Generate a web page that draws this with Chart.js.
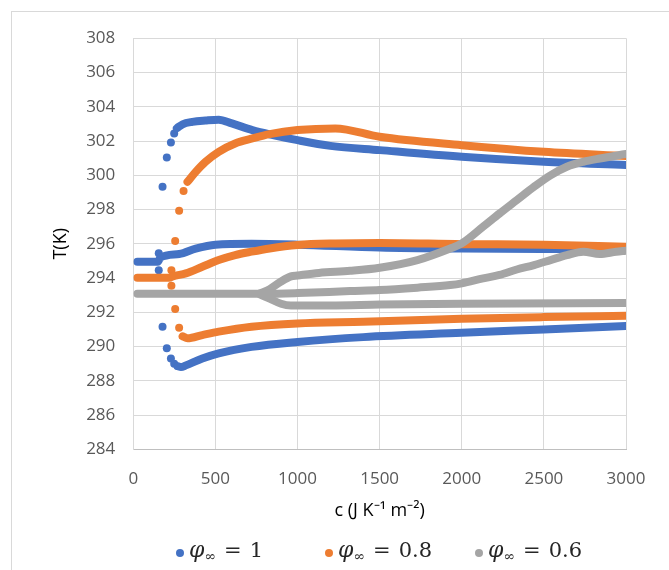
<!DOCTYPE html>
<html>
<head>
<meta charset="utf-8">
<script src="https://cdn.jsdelivr.net/npm/chart.js@4.4.1/dist/chart.umd.min.js"></script>
<style>
  html, body { margin: 0; padding: 0; background: #fff; overflow: hidden; }
  #wrap { position: relative; width: 669px; height: 570px; }
  #frame { position: absolute; left: 11px; top: 11px; width: 700px; height: 600px;
           border-top: 1px solid #d9d9d9; border-left: 1px solid #d9d9d9; }
  #legend { position: absolute; left: 0; top: 536px; width: 669px; height: 30px;
            font-family: "DejaVu Serif", "Liberation Serif", serif; font-size: 21px; color: #262626; }
  .item { position: absolute; top: 0; white-space: nowrap; line-height: 28px; }
  .dot { display: inline-block; width: 8px; height: 8px; border-radius: 50%; margin-right: 5px; vertical-align: 0px; }
  .item i { font-size: 22px; }
  .item sub { font-size: 14px; vertical-align: -4px; }
  .eq { margin: 0 8px; }
</style>
</head>
<body>
<div id="wrap">
  <div id="frame"></div>
  <canvas id="myChart"></canvas>
  <div id="legend"></div>
</div>
<script>
// phi_inf = 1 (blue): three branches plus the stray points where they split
var blueMidC = [25, 150, 165, 280, 380, 500, 720, 1000, 1500, 2000, 2500, 3000];
var blueMidT = [294.95, 294.95, 295.2, 295.4, 295.72, 295.95, 296.0, 295.95, 295.78, 295.72, 295.7, 295.75];
var blueUpC = [265, 300, 360, 440, 520, 600, 725, 850, 1000, 1200, 1500, 2000, 2500, 3000];
var blueUpT = [302.75, 302.98, 303.12, 303.2, 303.25, 303.03, 302.64, 302.35, 302.05, 301.72, 301.47, 301.08, 300.79, 300.6];
var blueLowC = [270, 290, 320, 420, 520, 720, 1000, 1400, 2000, 2500, 3000];
var blueLowT = [288.85, 288.8, 288.9, 289.3, 289.6, 289.98, 290.27, 290.55, 290.8, 291.0, 291.2];
var blueDotC = [155, 155, 178, 204, 229, 249, 178, 204, 229, 249];
var blueDotT = [295.45, 294.45, 299.33, 301.04, 301.92, 302.44, 291.16, 289.9, 289.3, 289.0];

// phi_inf = 0.8 (orange)
var orangeMidC = [25, 220, 240, 320, 420, 520, 620, 720, 830, 1000, 1230, 1500, 2000, 2500, 3000];
var orangeMidT = [294.02, 294.02, 294.1, 294.27, 294.66, 295.05, 295.34, 295.54, 295.73, 295.93, 296.02, 296.05, 295.98, 295.95, 295.83];
var orangeUpC = [330, 380, 440, 520, 620, 725, 830, 1000, 1230, 1500, 2000, 2500, 3000];
var orangeUpT = [299.62, 300.2, 300.79, 301.37, 301.86, 302.15, 302.4, 302.64, 302.74, 302.25, 301.76, 301.37, 301.12];
var orangeLowC = [300, 330, 420, 520, 720, 1000, 1400, 2000, 2500, 3000];
var orangeLowT = [290.6, 290.48, 290.67, 290.87, 291.16, 291.35, 291.45, 291.62, 291.72, 291.8];
var orangeDotC = [232, 232, 255, 279, 306, 255, 279];
var orangeDotT = [294.45, 293.55, 296.16, 297.93, 299.08, 292.19, 291.1];

// phi_inf = 0.6 (gray)
var grayMidC = [25, 800, 1000, 1320, 1500, 1730, 1930, 2000, 2130, 2230, 2335, 2440, 2540, 2640, 2740, 2840, 2940, 3000];
var grayMidT = [293.08, 293.08, 293.12, 293.24, 293.3, 293.44, 293.59, 293.69, 293.98, 294.18, 294.5, 294.76, 295.05, 295.34, 295.54, 295.4, 295.54, 295.6];
var grayUpC = [770, 830, 900, 960, 1000, 1130, 1320, 1500, 1730, 1930, 2000, 2130, 2230, 2335, 2440, 2540, 2640, 2740, 2840, 3000];
var grayUpT = [293.1, 293.35, 293.8, 294.1, 294.15, 294.3, 294.42, 294.6, 295.05, 295.73, 296.02, 297.0, 297.77, 298.55, 299.33, 300.0, 300.5, 300.79, 300.98, 301.24];
var grayLowC = [770, 830, 900, 960, 1200, 1500, 2000, 3000];
var grayLowT = [293.05, 292.8, 292.5, 292.4, 292.4, 292.45, 292.5, 292.55];

var blue = '#4472C4', orange = '#ED7D31', gray = '#A5A5A5';

function pts(cs, ts) {
    return cs.map(function (c, i) { return { x: c, y: ts[i] }; });
}

function branch(cs, ts, color, order) {
    return {
        data: pts(cs, ts),
        showLine: true,
        borderColor: color,
        backgroundColor: color,
        borderWidth: 8,
        borderCapStyle: 'round',
        borderJoinStyle: 'round',
        cubicInterpolationMode: 'monotone',
        pointRadius: 0,
        order: order
    };
}

function dots(cs, ts, color, order) {
    return {
        data: pts(cs, ts),
        showLine: false,
        backgroundColor: color,
        borderColor: color,
        pointRadius: 4,
        pointBorderWidth: 0,
        order: order
    };
}

var tickFont = { family: '"Open Sans", sans-serif', size: 17 };
var titleFont = { family: '"Open Sans", sans-serif', size: 18 };

var ctx = document.getElementById('myChart').getContext('2d');

var myChart = new Chart(ctx, {
    type: 'scatter',
    data: {
        datasets: [
            branch(grayMidC, grayMidT, gray, 1),
            branch(grayUpC, grayUpT, gray, 1),
            branch(grayLowC, grayLowT, gray, 1),
            branch(orangeMidC, orangeMidT, orange, 2),
            branch(orangeUpC, orangeUpT, orange, 2),
            branch(orangeLowC, orangeLowT, orange, 2),
            dots(orangeDotC, orangeDotT, orange, 2),
            branch(blueMidC, blueMidT, blue, 3),
            branch(blueUpC, blueUpT, blue, 3),
            branch(blueLowC, blueLowT, blue, 3),
            dots(blueDotC, blueDotT, blue, 3)
        ]
    },
    options: {
        responsive: true,
        maintainAspectRatio: false,
        animation: false,
        layout: { padding: { left: 0, top: 38.3, right: 43, bottom: 0 } },
        plugins: {
            legend: { display: false },
            tooltip: { enabled: false }
        },
        scales: {
            x: {
                type: 'linear',
                min: 0,
                max: 3000,
                ticks: {
                    stepSize: 500, color: '#595959', font: tickFont, padding: 20,
                    callback: function (v) { return String(v); }
                },
                grid: { color: '#d9d9d9', drawTicks: false },
                border: { color: '#bfbfbf' },
                title: {
                    display: true,
                    text: 'c (J K\u207B\u00B9 m\u207B\u00B2)',
                    color: '#000',
                    font: titleFont,
                    padding: { top: 0, bottom: 48 }
                },
                afterFit: function (scale) { scale.height = 120.7; }
            },
            y: {
                type: 'linear',
                min: 284,
                max: 308,
                ticks: { stepSize: 2, color: '#595959', font: tickFont, padding: 18 },
                grid: { color: '#d9d9d9', drawTicks: false },
                border: { color: '#d9d9d9' },
                title: {
                    display: true,
                    text: 'T(K)',
                    color: '#000',
                    font: titleFont,
                    padding: { top: 50, bottom: 0 }
                },
                afterFit: function (scale) { scale.width = 133.3; }
            }
        }
    }
});

// legend with the subscripted phi labels
var legendItems = [
    { color: blue, value: '1', left: 176 },
    { color: orange, value: '0.8', left: 325 },
    { color: gray, value: '0.6', left: 475 }
];
var legend = document.getElementById('legend');
legendItems.forEach(function (it) {
    var el = document.createElement('span');
    el.className = 'item';
    el.style.left = it.left + 'px';
    el.innerHTML = '<span class="dot" style="background:' + it.color + '"></span>' +
        '<i>\u03C6</i><sub>\u221E</sub><span class="eq">=</span>' + it.value;
    legend.appendChild(el);
});
</script>
</body>
</html>
